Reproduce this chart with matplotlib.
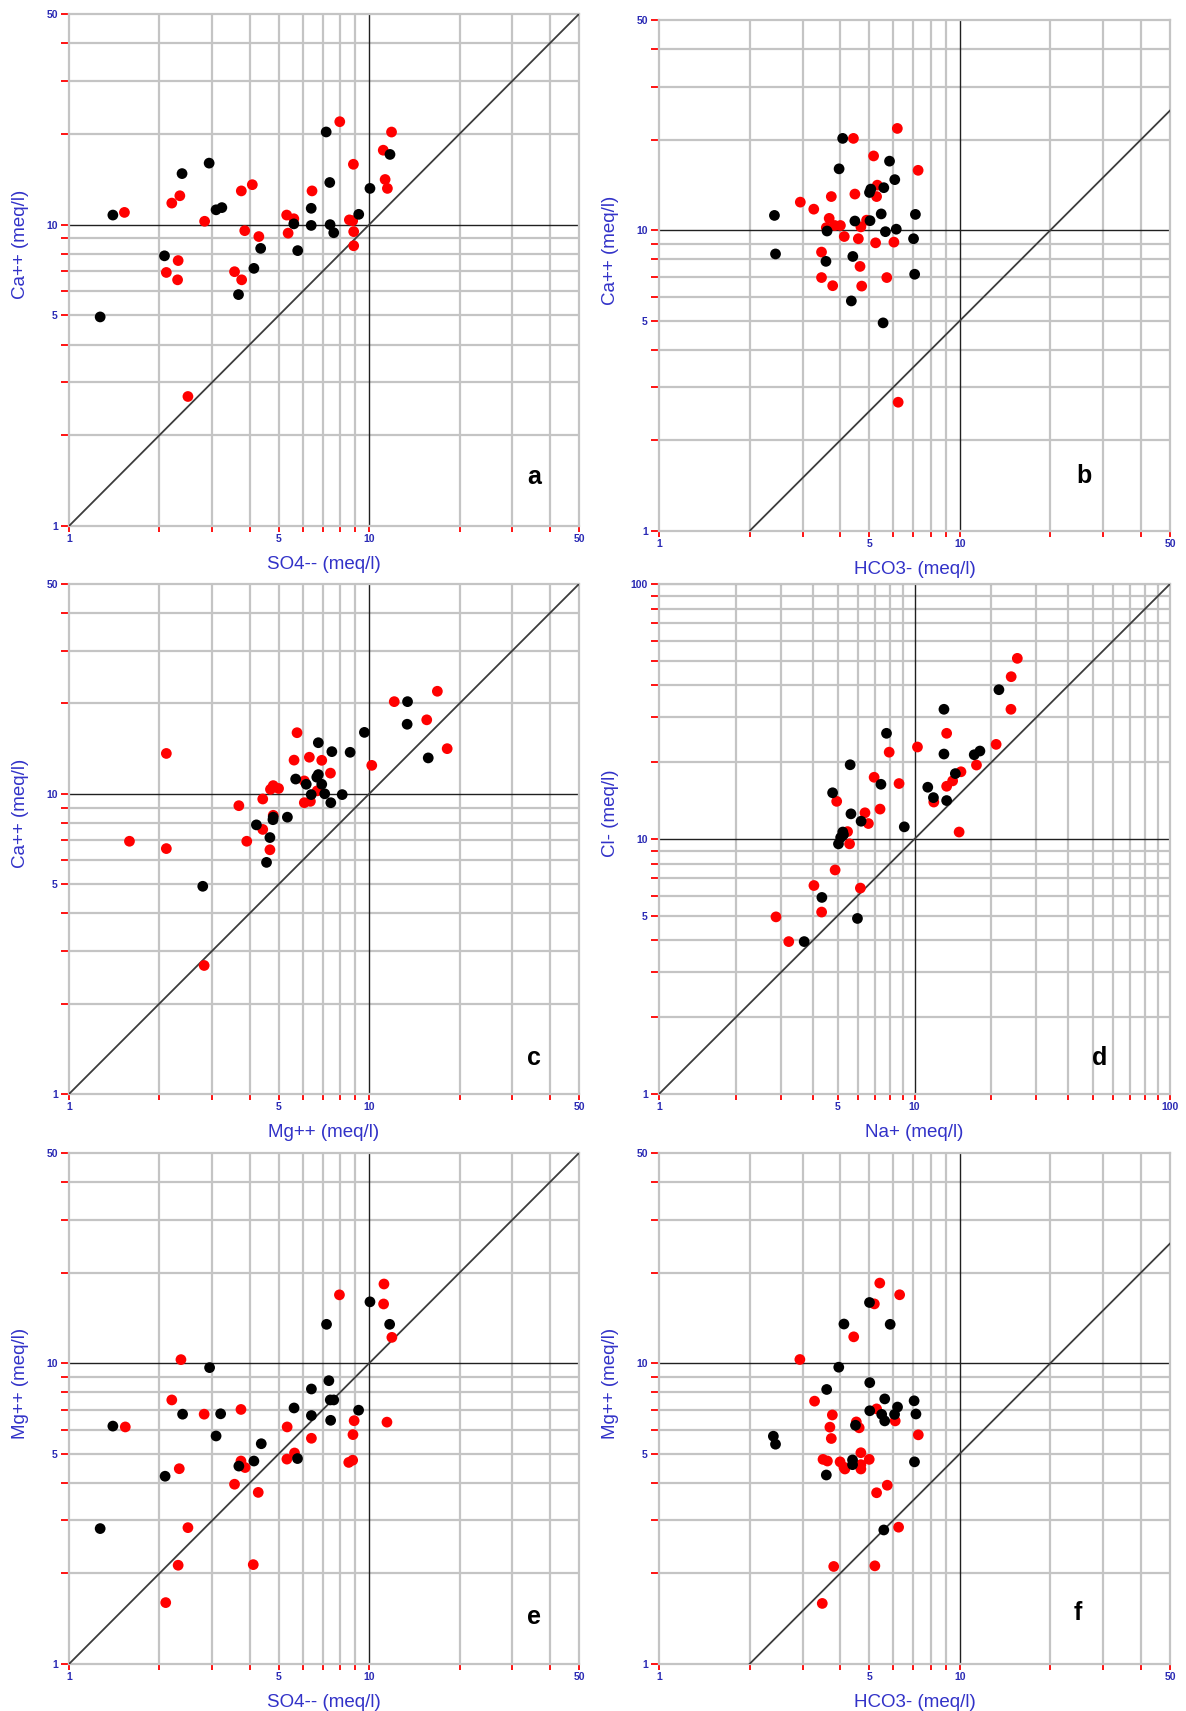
import numpy as np
import matplotlib
matplotlib.use("Agg")
import matplotlib.pyplot as plt
from matplotlib.ticker import FixedLocator, FixedFormatter, NullLocator

plt.rcParams['font.family'] = ['Liberation Sans', 'DejaVu Sans']

# ---- data (meq/l) ----
# a: Ca++ vs SO4--
a_black_x = [1.27, 1.40, 2.08, 2.38, 2.93, 3.09, 3.23, 3.67, 4.13, 4.35, 5.61, 5.78,
             6.41, 6.41, 7.19, 7.39, 7.41, 7.62, 9.23, 10.06, 11.73]
a_black_y = [4.94, 10.76, 7.88, 14.77, 16.0, 11.2, 11.39, 5.86, 7.16, 8.34, 10.06, 8.20,
             11.33, 9.94, 20.3, 13.8, 10.0, 9.40, 10.82, 13.19, 17.1]
a_red_x = [1.53, 2.20, 2.34, 2.11, 2.31, 2.30, 2.49, 2.83, 3.56, 3.76, 3.75, 3.85, 4.08,
           4.29, 5.31, 5.61, 5.37, 6.45, 7.98, 8.59, 8.81, 8.86, 8.88, 8.88, 11.14,
           11.87, 11.30, 11.5]
a_red_y = [10.98, 11.79, 12.47, 6.94, 7.60, 6.56, 2.69, 10.26, 6.98, 6.56, 12.94, 9.55,
           13.57, 9.13, 10.76, 10.46, 9.37, 12.94, 21.96, 10.37, 10.3, 15.86, 9.48, 8.51,
           17.66, 20.29, 14.12, 13.19]

# b: Ca++ vs HCO3-
b_black_x = [2.42, 2.44, 3.62, 3.59, 4.08, 3.97, 4.48, 4.41, 4.36, 5.01, 5.06, 5.03,
             5.59, 5.48, 5.66, 5.56, 5.84, 6.08, 6.15, 7.02, 7.12, 7.08]
b_black_y = [11.2, 8.34, 9.94, 7.88, 20.2, 16.0, 10.73, 8.18, 5.82, 13.35, 13.7, 10.76,
             13.85, 11.33, 9.89, 4.92, 16.97, 14.73, 10.08, 9.37, 11.29, 7.14]
b_red_x = [2.95, 3.27, 3.47, 3.47, 3.78, 3.68, 3.74, 3.60, 3.84, 4.01, 4.13, 4.43, 4.48,
           4.60, 4.69, 4.66, 4.72, 5.17, 5.32, 5.29, 5.25, 5.72, 6.04, 6.20, 7.27, 6.24,
           4.90]
b_red_y = [12.4, 11.75, 8.46, 6.96, 6.54, 10.95, 12.94, 10.2, 10.37, 10.37, 9.53, 20.2,
           13.19, 9.37, 10.26, 7.58, 6.52, 17.66, 14.12, 12.94, 9.08, 6.96, 9.13, 21.8,
           15.82, 2.68, 10.8]

# c: Ca++ vs Mg++
c_black_x = [2.79, 4.21, 4.67, 4.78, 4.79, 4.55, 5.34, 5.69, 6.17, 6.41, 6.69, 6.77,
             6.95, 6.77, 7.11, 7.45, 7.51, 8.13, 8.64, 9.64, 13.42, 13.38, 15.73]
c_black_y = [4.92, 7.88, 7.15, 8.20, 8.36, 5.91, 8.36, 11.2, 10.76, 9.94, 11.36, 11.59,
             10.76, 14.8, 10.0, 9.34, 13.82, 9.94, 13.75, 16.02, 20.28, 17.05, 13.17]
c_red_x = [1.59, 2.11, 2.11, 2.82, 3.68, 3.91, 4.42, 4.42, 4.67, 4.69, 4.79, 4.99, 4.79,
           5.62, 5.75, 6.08, 6.08, 6.37, 6.32, 6.71, 6.95, 7.43, 10.2, 12.12, 15.55,
           16.87, 18.19]
c_red_y = [6.95, 13.63, 6.57, 2.68, 9.13, 6.95, 9.61, 7.61, 6.51, 10.35, 10.65, 10.42,
           8.48, 12.95, 15.98, 11.04, 9.34, 9.44, 13.24, 10.23, 12.93, 11.72, 12.44,
           20.28, 17.64, 21.96, 14.14]

# d: Cl- vs Na+
d_black_x = [3.70, 4.34, 4.78, 5.04, 5.14, 5.24, 5.27, 5.60, 5.64, 5.98, 6.18, 7.39,
             7.77, 9.12, 11.27, 11.86, 13.04, 13.04, 13.36, 14.45, 17.13, 18.03, 21.4]
d_black_y = [3.96, 5.90, 15.18, 9.57, 10.13, 10.65, 10.4, 19.55, 12.55, 4.88, 11.74,
             16.39, 25.97, 11.16, 15.96, 14.53, 32.26, 21.54, 14.15, 18.05, 21.4, 22.13,
             38.5]
d_red_x = [2.87, 3.22, 4.04, 4.33, 4.89, 4.96, 5.47, 5.57, 6.14, 6.40, 6.60, 6.95, 7.33,
           7.96, 8.70, 10.27, 11.9, 13.36, 13.36, 14.1, 15.2, 14.95, 17.48, 20.87,
           23.85, 23.9, 25.26]
d_red_y = [4.95, 3.96, 6.57, 5.17, 7.56, 14.05, 10.69, 9.57, 6.42, 12.67, 11.5, 17.46,
           13.1, 21.9, 16.5, 22.95, 13.96, 25.97, 16.1, 16.9, 18.35, 10.65, 19.5, 23.5,
           32.26, 43.3, 51.1]

# e: Mg++ vs SO4--
e_black_x = [1.27, 1.40, 2.09, 2.39, 2.94, 3.09, 3.20, 3.68, 4.13, 4.37, 5.62, 5.77,
             6.42, 6.42, 7.21, 7.34, 7.42, 7.62, 7.44, 9.22, 10.06, 11.7]
e_black_y = [2.82, 6.18, 4.21, 6.77, 9.67, 5.73, 6.79, 4.55, 4.73, 5.40, 7.10, 4.82,
             8.21, 6.70, 13.47, 8.75, 7.55, 7.55, 6.46, 6.98, 16.0, 13.47]
e_red_x = [1.54, 2.10, 2.20, 2.31, 2.33, 2.36, 2.49, 2.82, 3.56, 3.74, 3.74, 3.86, 4.11,
           4.27, 5.33, 5.32, 5.64, 6.42, 7.96, 8.55, 8.81, 8.83, 8.91, 11.2, 11.17,
           11.46, 11.9]
e_red_y = [6.14, 1.60, 7.55, 2.13, 4.46, 10.28, 2.84, 6.77, 3.96, 7.02, 4.73, 4.50, 2.14,
           3.72, 6.14, 4.80, 5.03, 5.63, 16.88, 4.68, 4.76, 5.79, 6.44, 18.34, 15.74,
           6.37, 12.19]

# f: Mg++ vs HCO3-
f_black_x = [2.40, 2.44, 3.61, 3.60, 3.96, 4.12, 4.40, 4.40, 4.50, 5.01, 5.02, 5.02,
             5.50, 5.63, 5.63, 5.59, 5.87, 6.07, 6.21, 7.05, 7.15, 7.07]
f_black_y = [5.72, 5.38, 8.18, 4.25, 9.70, 13.5, 4.77, 4.60, 6.22, 15.92, 8.62, 6.95,
             6.76, 7.61, 6.43, 2.79, 13.47, 6.76, 7.15, 7.50, 6.78, 4.70]
f_red_x = [2.94, 3.29, 3.49, 3.51, 3.63, 3.70, 3.74, 3.77, 3.81, 4.00, 4.12, 4.15, 4.44,
           4.53, 4.63, 4.69, 4.69, 4.69, 5.00, 5.20, 5.42, 5.29, 5.29, 5.22, 5.74, 6.10,
           6.26, 6.31, 7.28]
f_red_y = [10.29, 7.48, 1.59, 4.79, 4.73, 6.13, 5.62, 6.73, 2.11, 4.70, 4.51, 4.45, 12.24,
           6.38, 6.10, 5.04, 4.60, 4.45, 4.79, 15.75, 18.47, 7.05, 3.71, 2.12, 3.93, 6.43,
           2.85, 16.89, 5.78]

x_labels = ['SO4-- (meq/l)', 'HCO3- (meq/l)', 'Mg++ (meq/l)', 'Na+ (meq/l)',
            'SO4-- (meq/l)', 'HCO3- (meq/l)']
y_labels = ['Ca++ (meq/l)', 'Ca++ (meq/l)', 'Ca++ (meq/l)', 'Cl- (meq/l)',
            'Mg++ (meq/l)', 'Mg++ (meq/l)']
letters = ['a', 'b', 'c', 'd', 'e', 'f']
upper = [50, 50, 50, 100, 50, 50]
ratio = [1, 0.5, 1, 1, 1, 0.5]   # slope of the reference line

# axes boxes in pixels (left, top, right, bottom)
boxes = [(69, 14, 579, 526), (659, 20, 1170, 531),
         (69, 584, 579, 1094), (659, 584, 1170, 1094),
         (69, 1153, 579, 1664), (659, 1153, 1170, 1664)]
letter_pos = [(0.912, 0.096), (0.831, 0.107), (0.912, 0.071),
              (0.863, 0.071), (0.912, 0.092), (0.82, 0.10)]

blacks = [(a_black_x, a_black_y), (b_black_x, b_black_y), (c_black_x, c_black_y),
          (d_black_x, d_black_y), (e_black_x, e_black_y), (f_black_x, f_black_y)]
reds = [(a_red_x, a_red_y), (b_red_x, b_red_y), (c_red_x, c_red_y),
        (d_red_x, d_red_y), (e_red_x, e_red_y), (f_red_x, f_red_y)]

W, H = 1186, 1711
fig = plt.figure(figsize=(W / 100, H / 100), dpi=100)

label_blue = '#3232c8'
tick_blue = '#2a2ab4'
grid_gray = '#c4c4c4'

for i in range(6):
    l, t, r, b = boxes[i]
    ax = fig.add_axes([l / W, 1 - b / H, (r - l) / W, (b - t) / H])
    top = upper[i]
    ax.set_xscale('log')
    ax.set_yscale('log')
    ax.set_xlim(1, top)
    ax.set_ylim(1, top)

    if top == 100:
        grid_vals = [2, 3, 4, 5, 6, 7, 8, 9, 20, 30, 40, 50, 60, 70, 80, 90]
        tick_vals = [1, 2, 3, 4, 5, 6, 7, 8, 9, 10, 20, 30, 40, 50, 60, 70, 80, 90, 100]
        shown = {1: '1', 5: '5', 10: '10', 100: '100'}
    else:
        grid_vals = [2, 3, 4, 5, 6, 7, 8, 9, 20, 30, 40]
        tick_vals = [1, 2, 3, 4, 5, 6, 7, 8, 9, 10, 20, 30, 40, 50]
        shown = {1: '1', 5: '5', 10: '10', 50: '50'}
    names = [shown.get(v, '') for v in tick_vals]

    for v in grid_vals:
        ax.axvline(v, color=grid_gray, lw=1.6, zorder=1)
        ax.axhline(v, color=grid_gray, lw=1.6, zorder=1)
    ax.axvline(10, color='#202020', lw=1.0, zorder=2)
    ax.axhline(10, color='#202020', lw=1.0, zorder=2)
    if top == 100:
        ax.axhline(100, color='#505050', lw=1.5, zorder=2)

    # reference line y = ratio * x
    xs = np.array([1.0, top])
    ys = ratio[i] * xs
    ax.plot(xs, ys, color='#3c3c3c', lw=1.3, zorder=3)

    rx, ry = reds[i]
    bx, by = blacks[i]
    ax.scatter(rx, ry, s=60, color='#ff0000', edgecolors='none', zorder=4)
    ax.scatter(bx, by, s=60, color='#000000', edgecolors='none', zorder=5)

    for axis in (ax.xaxis, ax.yaxis):
        axis.set_major_locator(FixedLocator(tick_vals))
        axis.set_major_formatter(FixedFormatter(names))
        axis.set_minor_locator(NullLocator())
    ax.tick_params(axis='x', colors='#ff0000', length=4, width=1.3, pad=2,
                   labelcolor=tick_blue, labelsize=7.5)
    ax.tick_params(axis='y', colors='#ff0000', length=6, width=1.3, pad=2,
                   labelcolor=tick_blue, labelsize=7.5)
    for lab in ax.get_xticklabels() + ax.get_yticklabels():
        lab.set_fontweight('bold')
    for sp in ax.spines.values():
        sp.set_color(grid_gray)
        sp.set_linewidth(1.6)

    ax.set_xlabel(x_labels[i], color=label_blue, fontsize=13.5)
    ax.set_ylabel(y_labels[i], color=label_blue, fontsize=13.5)
    ax.xaxis.set_label_coords(0.5, -0.058)
    ax.yaxis.set_label_coords(-0.078, 0.55)

    ax.text(letter_pos[i][0], letter_pos[i][1], letters[i], transform=ax.transAxes,
            fontsize=18, fontweight='bold', color='black', ha='center', va='center')

fig.savefig('out.png', dpi=100)
